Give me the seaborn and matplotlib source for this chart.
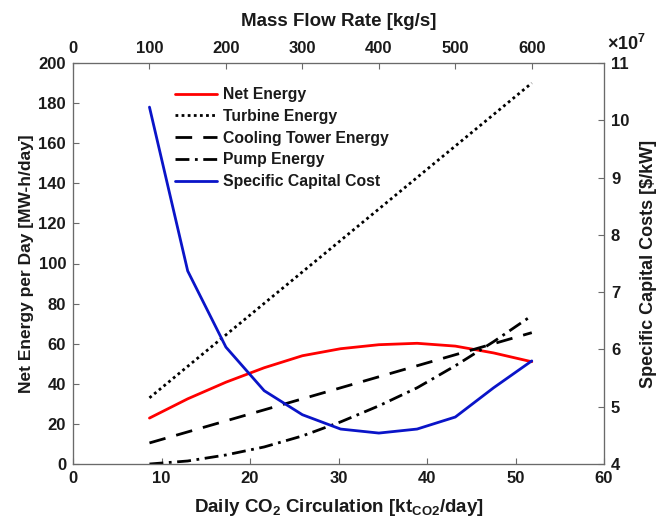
import numpy as np
import pandas as pd
import matplotlib
matplotlib.use("Agg")
import matplotlib.pyplot as plt
import seaborn as sns

# ---- data ----
mass_flow = [100, 150, 200, 250, 300, 350, 400, 450, 500, 550, 600]  # kg/s
KT_PER_DAY = 0.0864  # kg/s -> kt/day
co2_kt_day = [m * KT_PER_DAY for m in mass_flow]  # kt/day
net_energy = [22.9, 32.5, 40.8, 48.0, 54.0, 57.5, 59.5, 60.2, 58.8, 55.4, 51.0]
turbine_energy = [33.0, 48.7, 64.4, 80.1, 95.8, 111.5, 127.2, 142.9, 158.6, 174.3, 190.0]
cooling_energy = [10.5, 16.0, 21.5, 27.0, 32.5, 38.0, 43.5, 49.0, 54.5, 60.0, 65.5]
pump_energy = [0.0, 1.5, 4.5, 8.5, 14.0, 21.0, 29.0, 38.0, 49.0, 61.0, 74.0]
spec_cost_e7 = [10.23, 7.37, 6.04, 5.28, 4.86, 4.61, 4.54, 4.61, 4.82, 5.33, 5.80]  # x 1e7 $/kW

left_ticks = list(range(0, 201, 20))
right_ticks = list(range(4, 12))
bottom_ticks = list(range(0, 61, 10))
top_ticks = list(range(0, 601, 100))

df = pd.DataFrame({"x": co2_kt_day, "net": net_energy, "turb": turbine_energy,
                   "cool": cooling_energy, "pump": pump_energy, "cost": spec_cost_e7})

sns.set_theme(style="white")
plt.rcParams["font.family"] = ["Liberation Sans", "DejaVu Sans"]
plt.rcParams["font.weight"] = "bold"
plt.rcParams["axes.labelweight"] = "bold"
plt.rcParams["mathtext.fontset"] = "custom"
plt.rcParams["mathtext.rm"] = "Liberation Sans:bold"
plt.rcParams["mathtext.bf"] = "Liberation Sans:bold"
plt.rcParams["mathtext.it"] = "Liberation Sans:bold"
plt.rcParams["mathtext.default"] = "bf"

fig = plt.figure(figsize=(6.71, 5.21), dpi=100)
ax = fig.add_axes([73/671, 1-464/521, (604-73)/671, (464-63)/521])
spine_col = "#6a6a6a"
tick_fs = 12
lw = 2.0

sns.lineplot(data=df, x="x", y="net", ax=ax, color="red", lw=lw, label="Net Energy")
sns.lineplot(data=df, x="x", y="turb", ax=ax, color="black", lw=lw, linestyle=(0, (1, 1.2)), label="Turbine Energy")
sns.lineplot(data=df, x="x", y="cool", ax=ax, color="black", lw=lw, linestyle=(0, (6, 4)), label="Cooling Tower Energy")
sns.lineplot(data=df, x="x", y="pump", ax=ax, color="black", lw=lw, linestyle=(0, (5, 2, 1, 2)), label="Pump Energy")

ax2 = ax.twinx()
sns.lineplot(data=df, x="x", y="cost", ax=ax2, color="#0a14c8", lw=lw, label="Specific Capital Cost")

ax.set_xlim(0, 60)
ax.set_ylim(0, 200)
ax2.set_ylim(4, 11)
ax.set_xticks(bottom_ticks)
ax.set_yticks(left_ticks)
ax2.set_yticks(right_ticks)

ax3 = ax.twiny()
ax3.set_xlim(0, 60 / KT_PER_DAY)
ax3.set_xticks(top_ticks)

for a in (ax, ax2, ax3):
    for s in a.spines.values():
        s.set_color(spine_col)
        s.set_linewidth(0.8)
    a.tick_params(direction="in", length=4, width=0.8, colors=spine_col, labelsize=tick_fs, pad=5)
    for t in a.get_xticklabels() + a.get_yticklabels():
        t.set_fontweight("bold")
        t.set_color("#1a1a1a")

ax.set_xlabel(r"Daily CO$_2$ Circulation [kt$_{CO2}$/day]", fontsize=13.5, fontweight="bold", labelpad=8,
              color="#1a1a1a")
ax.set_ylabel("Net Energy per Day [MW-h/day]", fontsize=12.5, fontweight="bold", labelpad=3, color="#1a1a1a")
ax2.set_ylabel("Specific Capital Costs [$/kW]", fontsize=13, fontweight="bold", labelpad=8, color="#1a1a1a")
ax3.set_xlabel("Mass Flow Rate [kg/s]", fontsize=13.5, fontweight="bold", labelpad=11, color="#1a1a1a")
ax2.text(1.005, 1.022, r"$\times10^{7}$", transform=ax2.transAxes, fontsize=13,
         ha="left", va="bottom", color="#1a1a1a")

h1, l1 = ax.get_legend_handles_labels()
h2, l2 = ax2.get_legend_handles_labels()
if ax2.get_legend():
    ax2.get_legend().remove()
leg = ax.legend(h1 + h2, l1 + l2, loc="upper left", bbox_to_anchor=(0.192, 0.94), frameon=False,
                fontsize=11.3, handlelength=2.7, handletextpad=0.35, labelspacing=0.43,
                borderpad=0, borderaxespad=0)
for t in leg.get_texts():
    t.set_fontweight("bold")
    t.set_color("#1a1a1a")

fig.savefig("out.png", dpi=100)
